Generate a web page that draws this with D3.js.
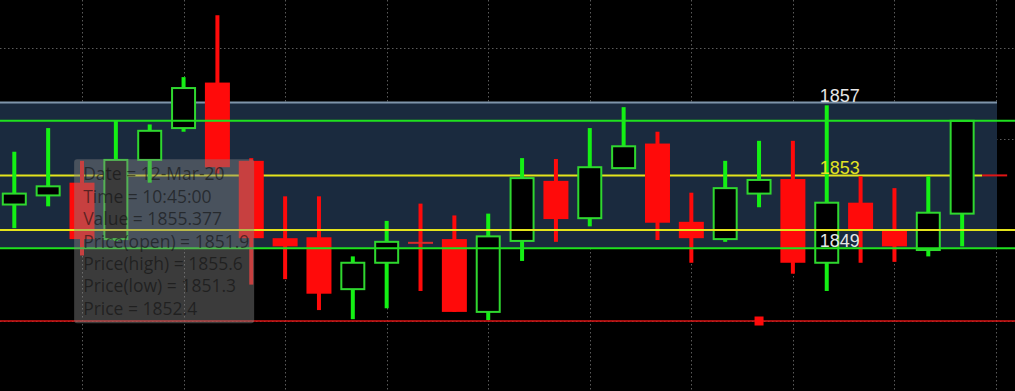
<!DOCTYPE html>
<html>
<head>
<meta charset="utf-8">
<script src="https://cdn.jsdelivr.net/npm/d3@7"></script>
<style>
  html, body { margin: 0; padding: 0; background: #000; overflow: hidden; }
</style>
</head>
<body>
<div id="canvas"></div>
<script>
"use strict"

/* Data: 15 minute bars */
let times = ["10:30", "10:45", "11:00", "11:15", "11:30", "11:45", "12:00", "12:15", "12:30", "12:45",
    "13:00", "13:15", "13:30", "13:45", "14:00", "14:15", "14:30", "14:45", "15:00", "15:15",
    "15:30", "15:45", "16:00", "16:15", "16:30", "16:45", "17:00", "17:15", "17:30"];
let opens = [1851.4, 1851.9, 1852.6, 1849.5, 1853.85, 1855.6, 1858.1, 1853.8, 1849.55, 1849.6,
    1846.75, 1848.2, 1849.35, 1849.5, 1845.5, 1849.4, 1852.7, 1850.65, 1853.4, 1854.75,
    1850.45, 1849.5, 1852.0, 1852.8, 1848.2, 1851.5, 1850.05, 1848.9, 1850.9];
let highs = [1854.3, 1855.6, 1853.8, 1856.0, 1855.8, 1858.4, 1861.8, 1853.95, 1851.85, 1851.85,
    1848.55, 1850.5, 1851.45, 1850.8, 1850.9, 1853.95, 1853.9, 1855.6, 1856.75, 1855.4,
    1852.05, 1853.8, 1854.9, 1854.9, 1856.85, 1852.95, 1852.3, 1852.95, 1856.0];
let lows = [1850.1, 1851.3, 1848.6, 1849.4, 1852.6, 1855.4, 1853.1, 1847.0, 1847.3, 1845.6,
    1845.1, 1845.7, 1846.65, 1845.5, 1845.05, 1848.3, 1849.35, 1850.2, 1853.35, 1849.45,
    1848.2, 1849.35, 1851.25, 1847.6, 1846.65, 1848.2, 1848.25, 1848.55, 1849.1];
let closes = [1852.0, 1852.4, 1849.5, 1853.85, 1855.45, 1857.8, 1853.45, 1849.55, 1849.1, 1846.5,
    1848.2, 1849.35, 1849.3, 1845.5, 1849.65, 1852.85, 1850.6, 1853.45, 1854.6, 1850.4,
    1849.55, 1852.3, 1852.75, 1848.2, 1851.5, 1849.95, 1849.1, 1850.95, 1856.0];

/* Levels */
let bandTop = 1857;
let bandBottom = 1849;
let greenLevels = [1856, 1849];
let yellowLevels = [1850];
let lastPrice = 1853;
let stopLevel = 1845;
let bandLabels = [1857, 1853, 1849];
let gridValues = [1845, 1850, 1855, 1860];
let markerIndex = 22;

/* Tooltip */
let tipIndex = 1;
let tipDate = "12-Mar-20";
let tipValue = "1855.377";

/* Drawing config */
let svgWidth = 1015;
let svgHeight = 391;
let bodyWidth = 23;
let wickWidth = 4;

let svg = d3.select("#canvas")
    .append("svg")
    .attr("width", svgWidth)
    .attr("height", svgHeight)
    .style("display", "block")
    .style("background", "#000");

let bars = times.map(function (t, i) {
    return { time: t, i: i, open: opens[i], high: highs[i], low: lows[i], close: closes[i] };
});

let x = d3.scaleLinear()
    .domain([0, times.length])
    .range([14.3, 996]);

let y = d3.scaleLinear()
    .domain([1845, 1860])
    .range([321, 48]);

/* grid */
let gridCols = d3.range(2, times.length + 1, 3);
svg.selectAll("line.vgrid")
    .data(gridCols)
    .join("line")
    .attr("class", "vgrid")
    .attr("x1", d => Math.round(x(d)) + 0.5)
    .attr("x2", d => Math.round(x(d)) + 0.5)
    .attr("y1", 0)
    .attr("y2", svgHeight)
    .attr("stroke", "#5a5a5a")
    .attr("stroke-dasharray", "1.5,2.5");

svg.selectAll("line.hgrid")
    .data(gridValues)
    .join("line")
    .attr("class", "hgrid")
    .attr("x1", 0)
    .attr("x2", svgWidth)
    .attr("y1", d => Math.round(y(d)) + 0.5)
    .attr("y2", d => Math.round(y(d)) + 0.5)
    .attr("stroke", "#5a5a5a")
    .attr("stroke-dasharray", "1.5,2.5");

/* band */
svg.append("rect")
    .attr("x", 0)
    .attr("y", y(bandTop))
    .attr("width", x(times.length) + 1)
    .attr("height", y(bandBottom) - y(bandTop))
    .attr("fill", "#1a2a3e");

svg.append("line")
    .attr("x1", 0)
    .attr("x2", x(times.length) + 1)
    .attr("y1", y(bandTop))
    .attr("y2", y(bandTop))
    .attr("stroke", "#7f95ab")
    .attr("stroke-width", 2);

/* last price line, under the candles */
svg.append("line")
    .attr("x1", 0)
    .attr("x2", x(times.length - 1) + 20)
    .attr("y1", y(lastPrice))
    .attr("y2", y(lastPrice))
    .attr("stroke", "#e4e41c")
    .attr("stroke-width", 2);

svg.append("line")
    .attr("x1", x(times.length - 1) + 20)
    .attr("x2", x(times.length - 1) + 45)
    .attr("y1", y(lastPrice))
    .attr("y2", y(lastPrice))
    .attr("stroke", "#e01515")
    .attr("stroke-width", 2);

/* candles */
let candles = svg.selectAll("g.candle")
    .data(bars)
    .join("g")
    .attr("class", "candle");

candles.append("rect")
    .attr("x", d => x(d.i) - wickWidth / 2)
    .attr("y", d => y(d.high))
    .attr("width", wickWidth)
    .attr("height", d => y(d.low) - y(d.high))
    .attr("fill", d => d.close >= d.open ? "#14f014" : "#ff0a0a");

candles.append("rect")
    .attr("x", function (d) {
        return d.close >= d.open ? x(d.i) - bodyWidth / 2 : x(d.i) - (bodyWidth + 2) / 2;
    })
    .attr("y", d => y(Math.max(d.open, d.close)))
    .attr("width", d => d.close >= d.open ? bodyWidth : bodyWidth + 2)
    .attr("height", d => Math.max(2, Math.abs(y(d.open) - y(d.close))))
    .attr("fill", function (d) {
        if (d.close >= d.open) return "#000";
        return Math.abs(d.open - d.close) < 0.1 ? "#d82a2a" : "#ff0a0a";
    })
    .attr("stroke", d => d.close >= d.open ? "#2fd82f" : "none")
    .attr("stroke-width", 2);

/* levels drawn above the candles */
svg.selectAll("line.green")
    .data(greenLevels)
    .join("line")
    .attr("class", "green")
    .attr("x1", 0)
    .attr("x2", svgWidth)
    .attr("y1", d => y(d))
    .attr("y2", d => y(d))
    .attr("stroke", "#1fe01f")
    .attr("stroke-width", 2);

svg.selectAll("line.yellow")
    .data(yellowLevels)
    .join("line")
    .attr("class", "yellow")
    .attr("x1", 0)
    .attr("x2", svgWidth)
    .attr("y1", d => y(d))
    .attr("y2", d => y(d))
    .attr("stroke", "#e4e41c")
    .attr("stroke-width", 2);

svg.append("line")
    .attr("x1", 0)
    .attr("x2", svgWidth)
    .attr("y1", y(stopLevel))
    .attr("y2", y(stopLevel))
    .attr("stroke", "#dd1414")
    .attr("stroke-width", 1.5);

svg.append("rect")
    .attr("x", x(markerIndex) - 4.5)
    .attr("y", y(stopLevel) - 4.5)
    .attr("width", 9)
    .attr("height", 9)
    .attr("fill", "#ff0a0a");

/* band labels */
svg.selectAll("text.level")
    .data(bandLabels)
    .join("text")
    .attr("class", "level")
    .attr("x", x(24) + 13)
    .attr("y", d => y(d) - 1)
    .attr("text-anchor", "middle")
    .attr("font-family", "Liberation Sans, Arial, sans-serif")
    .attr("font-size", 18)
    .attr("fill", d => d === lastPrice ? "#e2e222" : "#e6e6e6")
    .text(d => d);

/* tooltip */
let tip = bars[tipIndex];
let tipLines = [
    "Date = " + tipDate,
    "Time = " + tip.time + ":00",
    "Value = " + tipValue,
    "Price(open) = " + tip.open.toFixed(1),
    "Price(high) = " + tip.high.toFixed(1),
    "Price(low) = " + tip.low.toFixed(1),
    "Price = " + tip.close.toFixed(1)
];

let tipX = x(tipIndex) + 26;
let tipY = y(tip.close) - 27;

svg.append("rect")
    .attr("x", tipX)
    .attr("y", tipY)
    .attr("width", 180)
    .attr("height", 164)
    .attr("rx", 3)
    .attr("fill", "rgba(130,130,130,0.45)");

svg.selectAll("text.tip")
    .data(tipLines)
    .join("text")
    .attr("class", "tip")
    .attr("x", tipX + 9)
    .attr("y", (d, i) => tipY + 21 + i * 22.4)
    .attr("font-family", "Open Sans, sans-serif")
    .attr("font-size", 17.5)
    .attr("fill", "rgba(15,15,15,0.6)")
    .text(d => d);
</script>
</body>
</html>
